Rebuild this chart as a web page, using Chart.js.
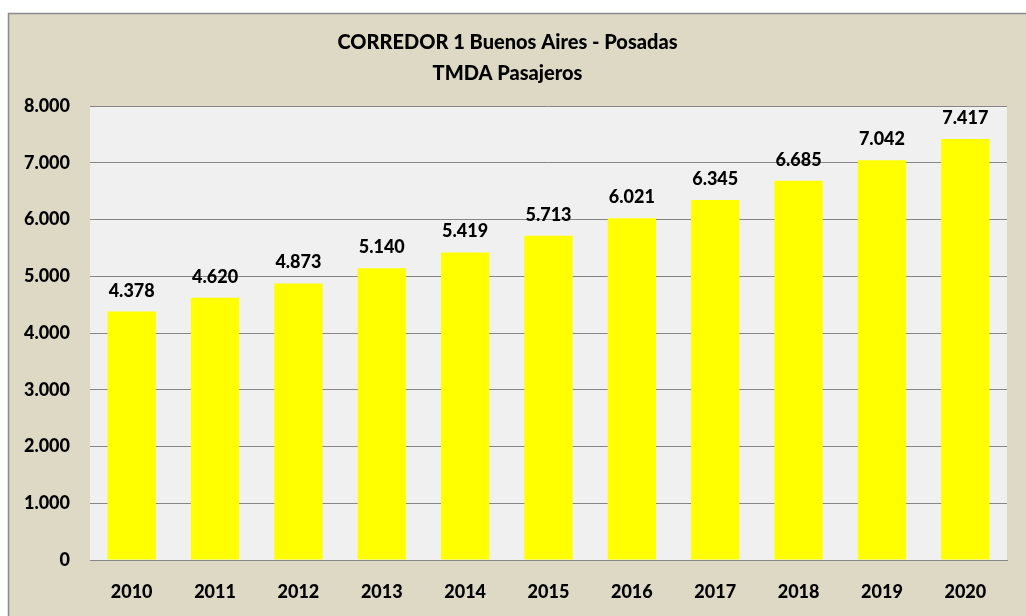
<!DOCTYPE html>
<html>
<head>
<meta charset="utf-8">
<script src="https://cdn.jsdelivr.net/npm/chart.js@4/dist/chart.umd.min.js"></script>
<style>
html,body{margin:0;padding:0;background:#fff;}
#wrap{width:1026px;height:616px;}
</style>
</head>
<body>
<div id="wrap"><canvas id="c" width="1026" height="616"></canvas></div>
<script>
const categories = ['2010','2011','2012','2013','2014','2015','2016','2017','2018','2019','2020'];
const values = [4378, 4620, 4873, 5140, 5419, 5713, 6021, 6345, 6685, 7042, 7417];
const titleLines = ['CORREDOR 1 Buenos Aires - Posadas', 'TMDA Pasajeros'];
const yMin = 0, yMax = 8000, yStep = 1000;

const FONT = 'Lato, "Open Sans", "Liberation Sans", sans-serif';
function fmt(n){ return String(Math.round(n)).replace(/\B(?=(\d{3})+(?!\d))/g, '.'); }

const bgPlugin = {
  id: 'bg',
  beforeDraw(chart){
    const ctx = chart.ctx, a = chart.chartArea;
    ctx.save();
    ctx.fillStyle = '#ffffff';
    ctx.fillRect(0,0,chart.width,chart.height);
    ctx.fillStyle = '#ddd9c4';
    ctx.fillRect(8,13,chart.width,chart.height);
    ctx.strokeStyle = '#8a8a8a';
    ctx.lineWidth = 1.5;
    ctx.beginPath();
    ctx.moveTo(8.5, chart.height+2);
    ctx.lineTo(8.5, 13.5);
    ctx.lineTo(chart.width+2, 13.5);
    ctx.stroke();
    ctx.fillStyle = '#f0f0f0';
    ctx.fillRect(a.left, a.top, a.right-a.left, a.bottom-a.top);
    ctx.restore();
  }
};

const labelPlugin = {
  id: 'vals',
  afterDatasetsDraw(chart){
    const ctx = chart.ctx;
    const meta = chart.getDatasetMeta(0);
    ctx.save();
    ctx.fillStyle = '#000';
    ctx.font = '900 18px ' + FONT;
    ctx.textAlign = 'center';
    ctx.textBaseline = 'alphabetic';
    meta.data.forEach((el, i) => {
      ctx.fillText(fmt(values[i]), el.x, el.y - 15);
    });
    ctx.restore();
  }
};

new Chart(document.getElementById('c'), {
  type: 'bar',
  data: {
    labels: categories,
    datasets: [{
      data: values,
      backgroundColor: '#ffff00',
      borderWidth: 0,
      barPercentage: 0.58,
      categoryPercentage: 1.0
    }]
  },
  options: {
    responsive: false,
    animation: false,
    devicePixelRatio: 1,
    layout: { padding: { left: 8, right: 19, top: 13, bottom: 0 } },
    plugins: {
      legend: { display: false },
      tooltip: { enabled: false },
      title: {
        display: true,
        text: titleLines,
        color: '#000',
        font: { family: FONT, size: 20, weight: '900', lineHeight: '31px' },
        padding: { top: 14, bottom: 17 }
      }
    },
    scales: {
      x: {
        grid: { display: false, drawTicks: false },
        border: { display: true, color: '#868686', width: 1 },
        ticks: { color: '#000', font: { family: FONT, size: 18, weight: '900' }, padding: 21, maxRotation: 0 },
        afterFit(s){ s.height = 56; }
      },
      y: {
        min: yMin, max: yMax,
        ticks: { stepSize: yStep, color: '#000', font: { family: FONT, size: 18, weight: '900' }, padding: 20,
                 callback: v => fmt(v) },
        grid: { color: '#868686', lineWidth: 1, drawTicks: false },
        border: { display: false },
        afterFit(s){ s.width = 82; }
      }
    }
  },
  plugins: [bgPlugin, labelPlugin]
});
</script>
</body>
</html>
